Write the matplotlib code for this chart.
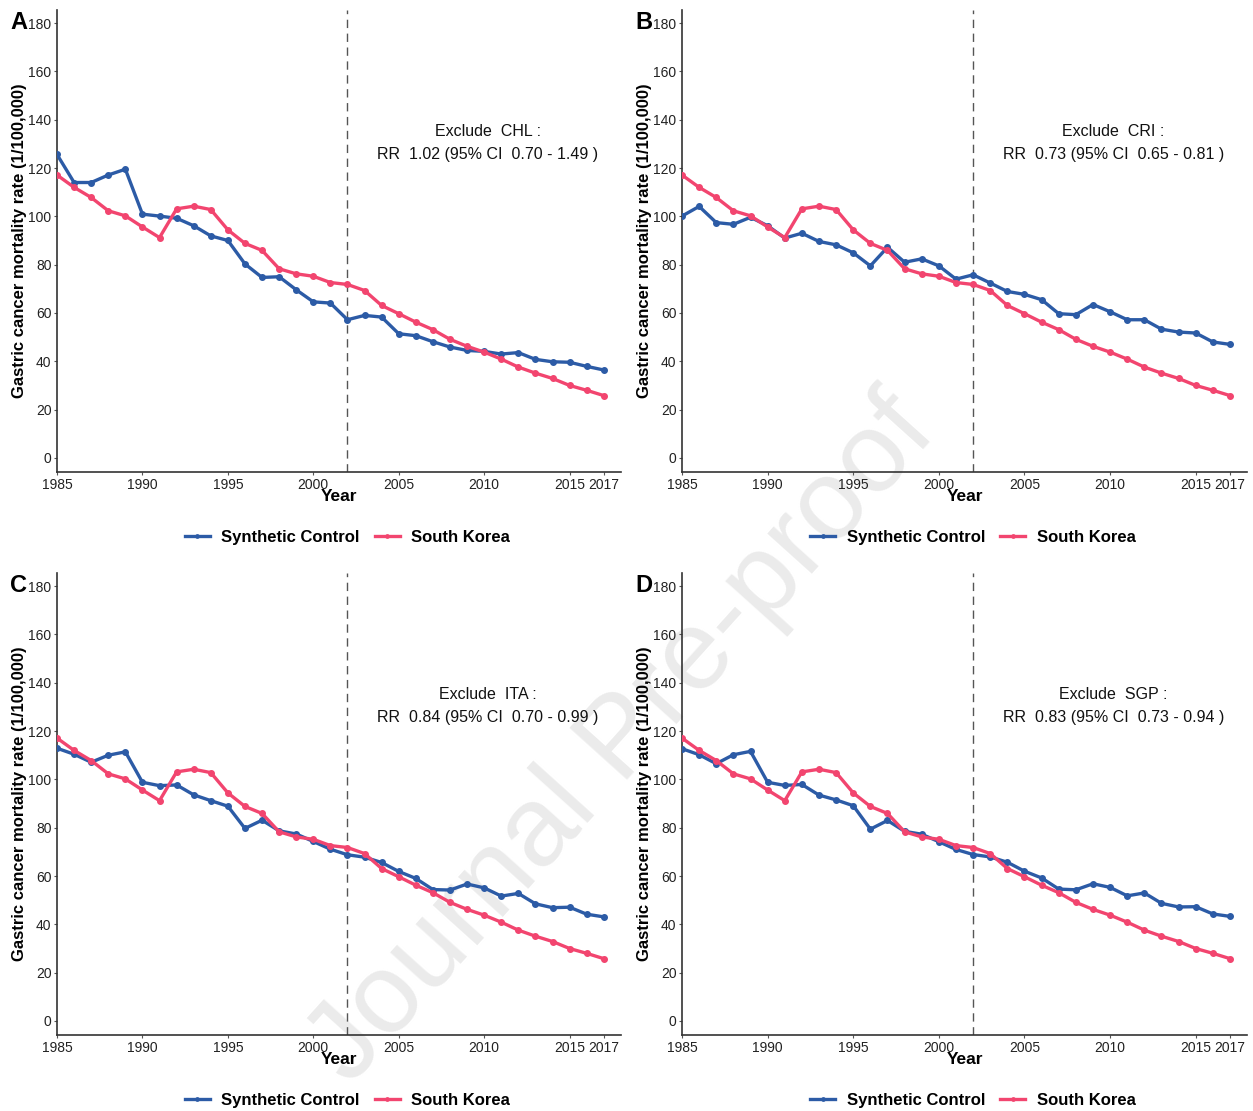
import matplotlib.pyplot as plt

plt.rcParams['font.family'] = ['Liberation Sans', 'DejaVu Sans']

years = list(range(1985, 2018))

south_korea = [117.1, 112.0, 107.8, 102.3, 100.2, 95.6, 91.2, 103.1, 104.2, 102.8,
               94.4, 88.8, 85.9, 78.3, 76.2, 75.2, 72.6, 71.8, 69.3, 63.1,
               59.7, 56.2, 53.1, 49.1, 46.2, 43.8, 40.9, 37.6, 35.1, 32.9,
               30.0, 28.0, 25.8]

synth_chl = [125.6, 114.0, 114.0, 117.1, 119.5, 100.9, 100.1, 99.2, 96.1, 91.9,
             90.0, 80.3, 74.7, 75.0, 69.6, 64.6, 64.1, 57.2, 59.0, 58.3,
             51.4, 50.6, 48.1, 45.9, 44.5, 44.1, 43.0, 43.6, 40.8, 39.8,
             39.6, 37.9, 36.4]

synth_cri = [100.1, 104.1, 97.4, 96.7, 99.6, 96.1, 91.0, 93.0, 89.6, 88.2,
             84.9, 79.5, 87.2, 81.0, 82.4, 79.5, 74.0, 75.8, 72.4, 68.9,
             67.7, 65.5, 59.7, 59.3, 63.5, 60.5, 57.2, 57.2, 53.3, 52.1,
             51.7, 48.0, 47.0]

synth_ita = [112.9, 110.4, 107.1, 110.0, 111.4, 98.8, 97.4, 97.7, 93.6, 91.2,
             88.9, 79.7, 83.1, 78.7, 77.4, 74.3, 71.1, 68.8, 67.8, 65.6,
             61.9, 59.0, 54.4, 54.2, 56.7, 55.1, 51.7, 52.8, 48.5, 46.9,
             47.1, 44.2, 43.1]

synth_sgp = [112.7, 110.2, 106.5, 110.2, 111.6, 98.8, 97.5, 97.9, 93.5, 91.5,
             89.1, 79.4, 83.0, 78.5, 77.3, 74.2, 71.0, 68.9, 67.9, 65.7,
             62.0, 59.2, 54.6, 54.3, 56.8, 55.3, 51.8, 53.0, 48.7, 47.2,
             47.3, 44.3, 43.3]

panels = [
    ('A', synth_chl, 'Exclude  CHL :', 'RR  1.02 (95% CI  0.70 - 1.49 )'),
    ('B', synth_cri, 'Exclude  CRI :', 'RR  0.73 (95% CI  0.65 - 0.81 )'),
    ('C', synth_ita, 'Exclude  ITA :', 'RR  0.84 (95% CI  0.70 - 0.99 )'),
    ('D', synth_sgp, 'Exclude  SGP :', 'RR  0.83 (95% CI  0.73 - 0.94 )'),
]

blue = '#2c5ba6'
red = '#f2456f'

fig = plt.figure(figsize=(12.53, 11.11), dpi=100)

# axes boxes in figure fractions: left, bottom, width, height
boxes = [
    (0.0455, 0.5752, 0.4500, 0.4158),
    (0.5443, 0.5752, 0.4510, 0.4158),
    (0.0455, 0.0684, 0.4500, 0.4158),
    (0.5443, 0.0684, 0.4510, 0.4158),
]

for (letter, synth, line1, line2), box in zip(panels, boxes):
    ax = fig.add_axes(box)
    ax.set_facecolor('none')
    ax.plot(years, synth, color=blue, lw=2.4, marker='o', ms=4, label='Synthetic Control', zorder=3)
    ax.plot(years, south_korea, color=red, lw=2.4, marker='o', ms=4, label='South Korea', zorder=3)
    ax.axvline(2002, color='#555555', lw=1, dashes=(6, 4), zorder=2)

    ax.set_xlim(1985, 2018)
    ax.set_ylim(-5.8, 185.4)
    ax.set_xticks([1985, 1990, 1995, 2000, 2005, 2010, 2015, 2017])
    ax.set_yticks(range(0, 181, 20))
    ax.tick_params(length=2.5, width=0.8, color='#555555', labelsize=10,
                   labelcolor='#222222', pad=1.5)
    for s in ['top', 'right']:
        ax.spines[s].set_visible(False)
    for s in ['left', 'bottom']:
        ax.spines[s].set_color('#333333')
        ax.spines[s].set_linewidth(1.2)

    ax.set_xlabel('Year', fontsize=12.5, fontweight='bold', labelpad=-2)
    ax.set_ylabel('Gastric cancer mortality rate (1/100,000)', fontsize=12, fontweight='bold',
                  labelpad=1)

    ax.text(2010.2, 135, line1, ha='center', va='center', fontsize=11.5, color='#111111')
    ax.text(2010.2, 125.5, line2, ha='center', va='center', fontsize=11.5, color='#111111')

    ax.text(-0.083, 0.973, letter, transform=ax.transAxes, fontsize=17, fontweight='bold',
            ha='left', va='center')

    ax.legend(loc='center', bbox_to_anchor=(0.515, -0.141), ncol=2, frameon=False,
              prop={'weight': 'bold', 'size': 12},
              handlelength=1.5, handletextpad=0.7, columnspacing=0.9, markerscale=0.6)

# watermark behind the axes
fig.text(0.497, 0.333, 'Journal Pre-proof', rotation=48, fontsize=82, color='#ebebeb',
         ha='center', va='center', zorder=-1)

plt.savefig('out.png', dpi=100)
